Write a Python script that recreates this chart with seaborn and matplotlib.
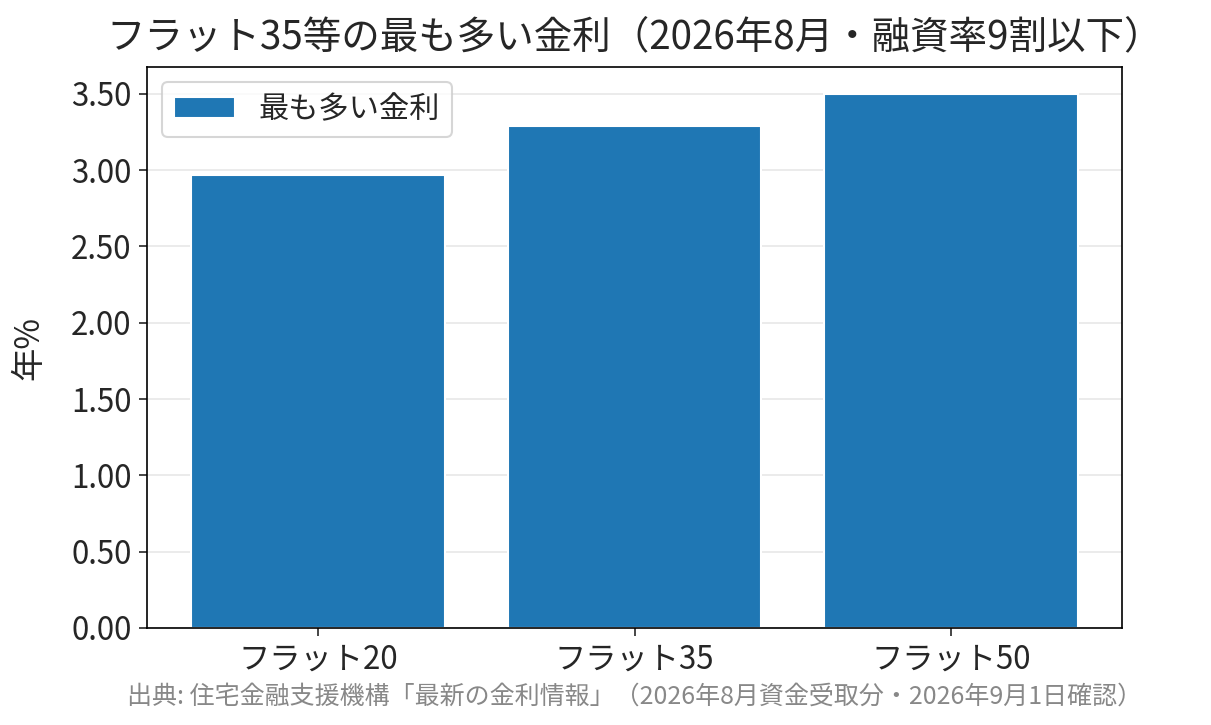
import matplotlib
matplotlib.use("Agg")
import matplotlib.pyplot as plt
import seaborn as sns
import pandas as pd
from matplotlib.ticker import FormatStrFormatter

categories = ["フラット20", "フラット35", "フラット50"]
rates = [2.97, 3.29, 3.50]
series_label = "最も多い金利"
title = "フラット35等の最も多い金利（2026年8月・融資率9割以下）"
ylabel = "年%"
source = "出典: 住宅金融支援機構「最新の金利情報」（2026年8月資金受取分・2026年9月1日確認）"

sns.set_style("white")
plt.rcParams['font.family'] = ['Noto Sans CJK JP', 'DejaVu Sans']

df = pd.DataFrame({"cat": categories, "rate": rates})

fig = plt.figure(figsize=(1211/150, 725/150), dpi=150)
ax = fig.add_axes([147/1211, 1-628/725, (1122-147)/1211, (628-67)/725])

sns.barplot(data=df, x="cat", y="rate", color="#1f77b4", saturation=1,
            label=series_label, ax=ax, width=0.8, zorder=2)

ax.set_xlim(-0.54, len(categories) - 1 + 0.54)
ax.set_ylim(0, max(rates) * 1.05)
ax.yaxis.set_major_formatter(FormatStrFormatter('%.2f'))
ax.grid(axis='y', color='#dddddd', alpha=0.7, linewidth=0.8, zorder=0)
ax.set_axisbelow(True)
ax.set_xlabel("")
ax.set_ylabel(ylabel, fontsize=16, labelpad=12)
ax.set_title(title, fontsize=18.5, pad=9)
ax.tick_params(axis='both', labelsize=15, length=4, width=0.8, direction='out', left=True, bottom=True)
for s in ax.spines.values():
    s.set_color('black')
    s.set_linewidth(0.8)
ax.legend(loc='upper left', fontsize=14.5, frameon=True, handlelength=2.0)

ax.text(0.5, 1-697/725, source, transform=ax.transAxes, ha='center', va='center', fontsize=12, color='#888888')
ax.texts[-1].set_transform(matplotlib.transforms.blended_transform_factory(ax.transAxes, fig.transFigure))

fig.savefig("out.png", dpi=150)
